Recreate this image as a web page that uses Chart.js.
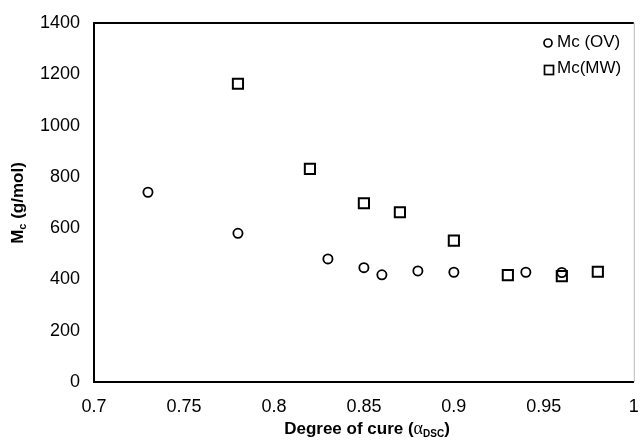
<!DOCTYPE html>
<html>
<head>
<meta charset="utf-8">
<script src="https://cdn.jsdelivr.net/npm/chart.js@4"></script>
<style>
  html, body { margin: 0; padding: 0; background: #fff; }
  #wrap { width: 643px; height: 444px; }
</style>
</head>
<body>
<div id="wrap"><canvas id="cureChart" width="643" height="444"></canvas></div>
<script>
const ovCure = [0.73, 0.78, 0.83, 0.85, 0.86, 0.88, 0.90, 0.94, 0.96];
const ovMc = [740, 580, 480, 446, 418, 433, 428, 428, 427];
const mwCure = [0.78, 0.82, 0.85, 0.87, 0.90, 0.93, 0.96, 0.98];
const mwMc = [1163, 831, 697, 662, 551, 417, 413, 430];
const xTicks = ['0.7', '0.75', '0.8', '0.85', '0.9', '0.95', '1'];
const yTicks = [0, 200, 400, 600, 800, 1000, 1200, 1400];

const toPoints = (xs, ys) => xs.map((x, i) => ({ x: x, y: ys[i] }));
const SANS = '"Liberation Sans", Arial, sans-serif';

// frame, legend and titles with subscripts
const extras = {
    id: 'extras',
    afterDraw(chart) {
        const c = chart.ctx, a = chart.chartArea;
        c.save();
        c.strokeStyle = '#000';
        c.lineWidth = 2;
        c.beginPath();
        c.moveTo(a.left - 1, a.top);
        c.lineTo(a.right, a.top);
        c.stroke();
        c.strokeStyle = '#bbb';
        c.lineWidth = 1;
        c.beginPath();
        c.moveTo(a.right + 0.5, a.top);
        c.lineTo(a.right + 0.5, a.bottom);
        c.stroke();

        // legend
        c.fillStyle = '#000';
        c.strokeStyle = '#000';
        c.lineWidth = 1.7;
        c.font = '17px ' + SANS;
        c.textBaseline = 'middle';
        c.textAlign = 'left';
        c.beginPath();
        c.arc(548, 43, 4, 0, Math.PI * 2);
        c.stroke();
        c.fillText('Mc (OV)', 557, 42);
        c.strokeRect(544.5, 65.5, 9, 9);
        c.fillText('Mc(MW)', 557, 68);

        // y title
        const big = 'bold 17px ' + SANS, small = 'bold 11px ' + SANS;
        c.translate(18, 203);
        c.rotate(-Math.PI / 2);
        c.font = big;
        const w1 = c.measureText('M').width;
        c.font = small;
        const w2 = c.measureText('c').width;
        c.font = big;
        const w3 = c.measureText(' (g/mol)').width;
        const x0 = -(w1 + w2 + w3) / 2;
        c.fillText('M', x0, 0);
        c.font = small;
        c.fillText('c', x0 + w1, 5);
        c.font = big;
        c.fillText(' (g/mol)', x0 + w1 + w2, 0);
        c.setTransform(1, 0, 0, 1, 0, 0);

        // x title
        const alpha = '18px "Liberation Serif", serif', sub = 'bold 10px ' + SANS;
        c.font = big;
        const p1 = 'Degree of cure (';
        const wa = c.measureText(p1).width;
        c.font = alpha;
        const wb = c.measureText('\u03b1').width;
        c.font = sub;
        const wc = c.measureText('DSC').width;
        c.font = big;
        const wd = c.measureText(')').width;
        const xs = 367 - (wa + wb + wc + wd) / 2;
        const ty = 429;
        c.fillText(p1, xs, ty);
        c.font = alpha;
        c.fillText('\u03b1', xs + wa, ty);
        c.font = sub;
        c.fillText('DSC', xs + wa + wb, ty + 5);
        c.font = big;
        c.fillText(')', xs + wa + wb + wc, ty);
        c.restore();
    }
};

new Chart(document.getElementById('cureChart'), {
    type: 'scatter',
    data: {
        datasets: [{
            label: 'Mc (OV)',
            data: toPoints(ovCure, ovMc),
            pointStyle: 'circle',
            pointRadius: 4.6,
            borderColor: '#000',
            backgroundColor: 'rgba(0,0,0,0)',
            borderWidth: 1.8
        }, {
            label: 'Mc(MW)',
            data: toPoints(mwCure, mwMc),
            pointStyle: 'rect',
            pointRadius: 7.2,
            borderColor: '#000',
            backgroundColor: 'rgba(0,0,0,0)',
            borderWidth: 2
        }]
    },
    options: {
        responsive: false,
        animation: false,
        layout: { padding: { top: 23, right: 3, left: 0, bottom: 0 } },
        plugins: { legend: { display: false }, tooltip: { enabled: false } },
        scales: {
            x: {
                type: 'linear',
                min: 0.7,
                max: 1,
                afterBuildTicks: (s) => { s.ticks = xTicks.map(v => ({ value: parseFloat(v) })); },
                afterFit: (s) => { s.height = 62; s.paddingLeft = 0; s.paddingRight = 0; },
                ticks: {
                    color: '#000',
                    padding: 14,
                    maxRotation: 0,
                    font: { family: SANS, size: 18 },
                    callback: (v, i) => xTicks[i]
                },
                grid: { display: false, drawTicks: false },
                border: { color: '#000', width: 2 }
            },
            y: {
                min: 0,
                max: 1400,
                afterBuildTicks: (s) => { s.ticks = yTicks.map(v => ({ value: v })); },
                afterFit: (s) => { s.width = 94; s.paddingTop = 0; s.paddingBottom = 0; },
                ticks: {
                    color: '#000',
                    padding: 14,
                    font: { family: SANS, size: 18 },
                    callback: (v) => String(v)
                },
                grid: { display: false, drawTicks: false },
                border: { color: '#000', width: 2 }
            }
        }
    },
    plugins: [extras]
});
</script>
</body>
</html>
